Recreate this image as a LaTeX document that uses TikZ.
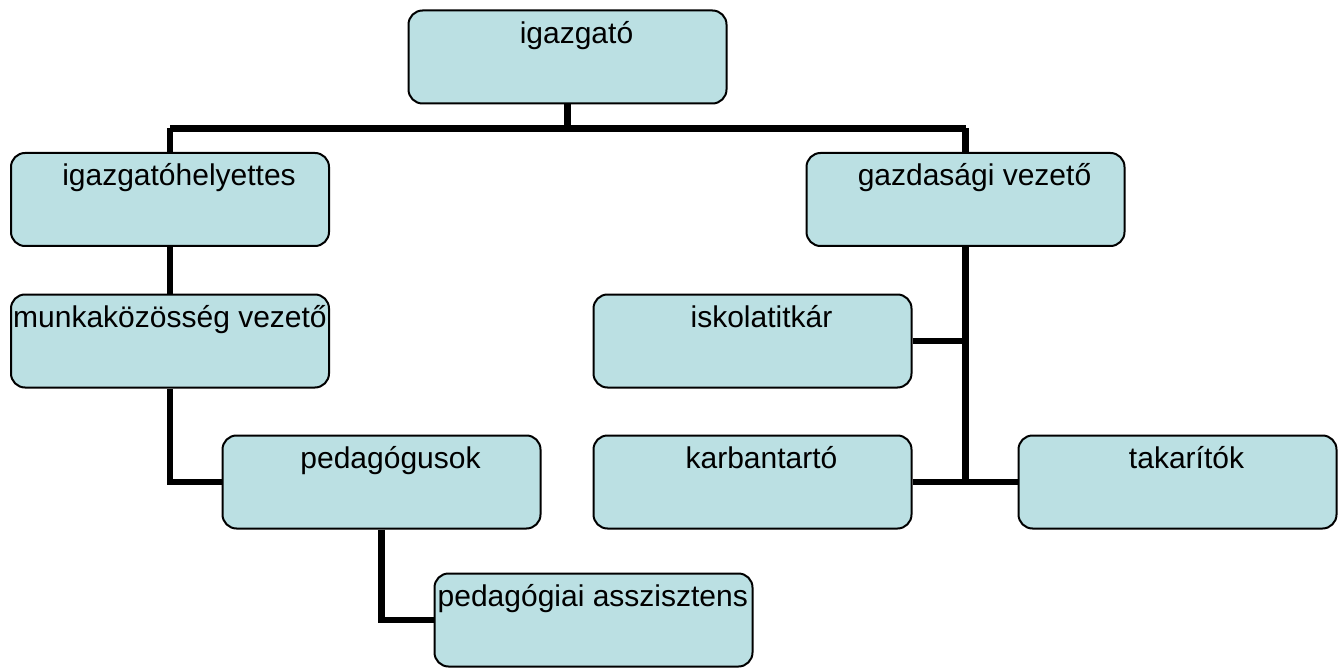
\documentclass[tikz,border=0pt]{standalone}
\usepackage{fontspec}
\setmainfont{Liberation Sans}
\definecolor{boxfill}{RGB}{187,224,227}
\begin{document}
\begin{tikzpicture}[x=1pt,y=-1pt,
  box/.style={draw=black, line width=2pt, fill=boxfill, rounded corners=14pt,
    minimum width=318pt, minimum height=93pt, inner sep=0pt},
  lbl/.style={font=\fontsize{30}{36}\selectfont, inner sep=0pt, anchor=base},
  conn/.style={line width=6.5pt}]
\useasboundingbox (0,0) rectangle (1343,668);

% boxes
\node[box] (ig) at (567.5,57) {};
\node[box] (ih) at (170,199.5) {};
\node[box] (gv) at (965.5,199.5) {};
\node[box] (mv) at (170,341) {};
\node[box] (it) at (752.5,341) {};
\node[box] (pe) at (381.5,482) {};
\node[box] (kt) at (752.5,482) {};
\node[box] (tk) at (1177.5,482) {};
\node[box] (pa) at (593.5,620) {};

% labels
\node[lbl] (ig-t) at ([xshift=9pt,yshift=-34pt]ig.north) {igazgató};
\node[lbl] (ih-t) at ([xshift=9pt,yshift=-34pt]ih.north) {igazgatóhelyettes};
\node[lbl] (gv-t) at ([xshift=9pt,yshift=-34pt]gv.north) {gazdasági vezető};
\node[lbl, anchor=base west] (mv-t) at ([xshift=3pt,yshift=-34pt]mv.north west) {munkaközösség vezető};
\node[lbl] (it-t) at ([xshift=9pt,yshift=-34pt]it.north) {iskolatitkár};
\node[lbl] (pe-t) at ([xshift=9pt,yshift=-34pt]pe.north) {pedagógusok};
\node[lbl] (kt-t) at ([xshift=9pt,yshift=-34pt]kt.north) {karbantartó};
\node[lbl] (tk-t) at ([xshift=9pt,yshift=-34pt]tk.north) {takarítók};
\begin{scope}
  \clip ([xshift=1pt]pa.north west) rectangle ([xshift=-5pt]pa.south east);
  \node[lbl, anchor=base west] (pa-t) at ([xshift=4pt,yshift=-34pt]pa.north west) {pedagógiai asszisztens};
\end{scope}

% connectors
\coordinate (bar) at ([yshift=-24pt]ig.south);
\draw[conn] (ig.south) -- (bar);
\draw[conn] (bar -| ih.north) -- (bar -| gv.north);
\draw[conn] (bar -| ih.north) -- (ih.north);
\draw[conn] (bar -| gv.north) -- (gv.north);
\draw[conn] (ih.south) -- (mv.north);
\draw[conn] (mv.south) |- (pe.west);
\draw[conn] (pe.south) |- (pa.west);
\draw[conn] (gv.south) -- (gv.south |- kt.east);
\draw[conn] (it.east) -- (it.east -| gv.south);
\draw[conn] (kt.east) -- (tk.west);
\end{tikzpicture}
\end{document}
